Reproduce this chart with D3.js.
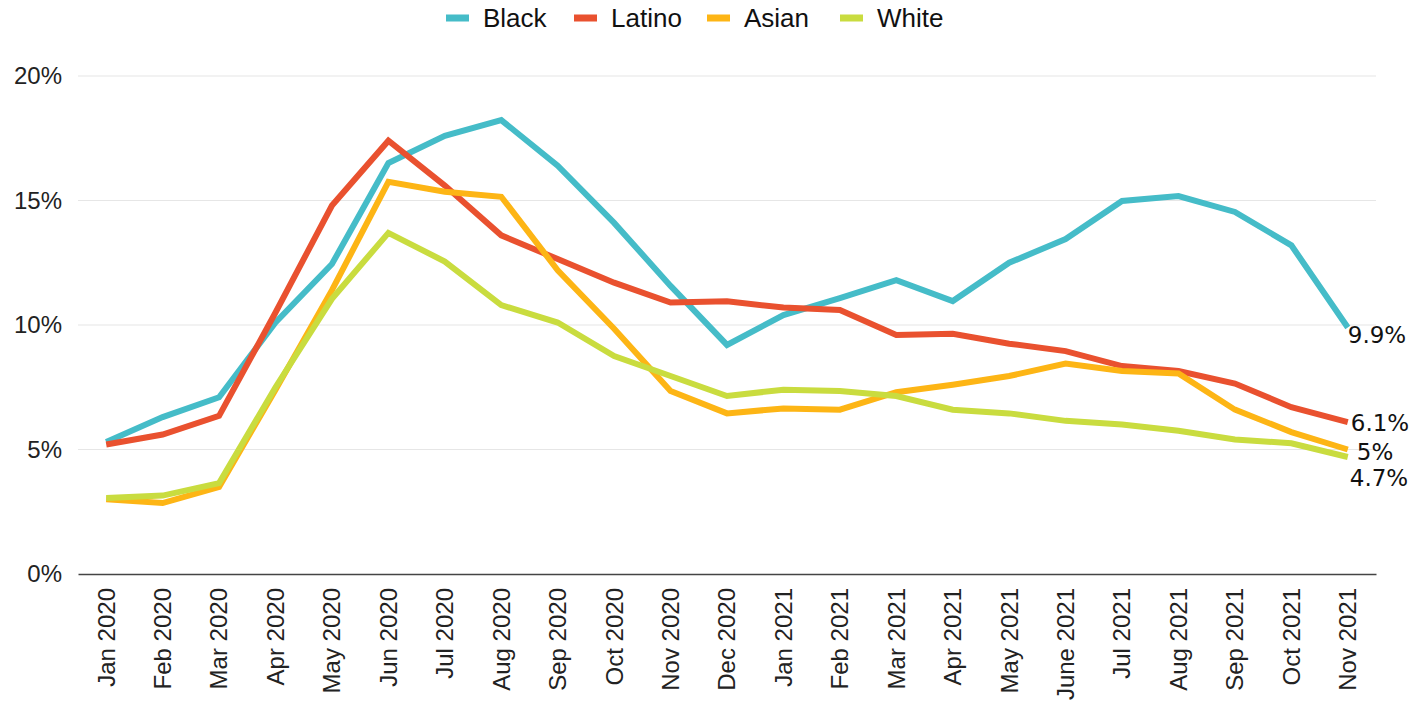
<!DOCTYPE html>
<html>
<head>
<meta charset="utf-8">
<script src="https://cdn.jsdelivr.net/npm/d3@7"></script>
<style>
  html, body { margin: 0; padding: 0; background: #fff; }
  svg { display: block; }
</style>
</head>
<body>
<svg id="chart" width="1414" height="709"></svg>
<script>
// Months on the x axis
const months = ["Jan 2020","Feb 2020","Mar 2020","Apr 2020","May 2020","Jun 2020","Jul 2020","Aug 2020",
  "Sep 2020","Oct 2020","Nov 2020","Dec 2020","Jan 2021","Feb 2021","Mar 2021","Apr 2021","May 2021",
  "June 2021","Jul 2021","Aug 2021","Sep 2021","Oct 2021","Nov 2021"];

// Unemployment rate (%) by group
const black  = [5.3, 6.3, 7.1, 10.1, 12.45, 16.5, 17.6, 18.23, 16.4, 14.1, 11.57, 9.2, 10.4, 11.08, 11.8, 10.96, 12.5, 13.45, 14.98, 15.18, 14.54, 13.2, 9.9];
const latino = [5.2, 5.6, 6.35, 10.5, 14.8, 17.4, 15.6, 13.6, 12.65, 11.7, 10.9, 10.95, 10.7, 10.6, 9.6, 9.65, 9.25, 8.95, 8.35, 8.15, 7.65, 6.7, 6.1];
const asian  = [3.0, 2.85, 3.5, 7.4, 11.4, 15.75, 15.35, 15.15, 12.2, 9.85, 7.35, 6.45, 6.65, 6.6, 7.3, 7.6, 7.95, 8.45, 8.15, 8.05, 6.6, 5.7, 5.0];
const white  = [3.05, 3.15, 3.65, 7.5, 11.05, 13.7, 12.55, 10.8, 10.1, 8.75, 7.95, 7.15, 7.4, 7.35, 7.15, 6.6, 6.45, 6.15, 6.0, 5.75, 5.4, 5.25, 4.7];

const seriesNames = ["Black", "Latino", "Asian", "White"];
const seriesColors = ["#45bcc8", "#e9512f", "#fdb515", "#c9dc3f"];
const yTicks = [0, 5, 10, 15, 20];

// End-of-line labels and their offsets from the last point
const endLabels = ["9.9%", "6.1%", "5%", "4.7%"];
const endOffsets = [[0, 7], [3, 1], [9, 2], [2, 21]];

const series = seriesNames.map((name, i) => ({
  name, color: seriesColors[i], values: [black, latino, asian, white][i], label: endLabels[i], off: endOffsets[i]
}));

const svg = d3.select("#chart");
const plotLeft = 78, plotRight = 1376, plotTop = 76, plotBottom = 574;

const x = d3.scaleBand().domain(months).range([plotLeft, plotRight]).padding(0);
const xc = m => x(m) + x.bandwidth() / 2;
const y = d3.scaleLinear().domain([0, 20]).range([plotBottom, plotTop]);

// Horizontal gridlines
svg.append("g").selectAll("line")
  .data(yTicks.filter(t => t > 0))
  .join("line")
  .attr("x1", plotLeft).attr("x2", plotRight)
  .attr("y1", d => y(d)).attr("y2", d => y(d))
  .attr("stroke", "#e6e6e6").attr("stroke-width", 1.2);

// Y axis labels
const yAxis = svg.append("g")
  .attr("transform", `translate(${plotLeft},0)`)
  .call(d3.axisLeft(y).tickValues(yTicks).tickFormat(d => d + "%").tickSize(0).tickPadding(16));
yAxis.select(".domain").remove();
yAxis.selectAll("text")
  .attr("font-family", "'Liberation Sans', Arial, sans-serif")
  .attr("font-size", 24).attr("fill", "#222");

// X axis
const xAxis = svg.append("g")
  .attr("transform", `translate(0,${plotBottom})`)
  .call(d3.axisBottom(x).tickSize(0).tickPadding(0));
xAxis.select(".domain").attr("stroke", "#444").attr("stroke-width", 1.6);
xAxis.selectAll("text")
  .attr("font-family", "'Liberation Sans', Arial, sans-serif")
  .attr("font-size", 24).attr("fill", "#222")
  .attr("transform", "translate(0,14) rotate(-90)")
  .attr("text-anchor", "end")
  .attr("dx", 0).attr("dy", "0.35em").attr("y", 0).attr("x", 0);

// Lines
const line = d3.line().x((d, i) => xc(months[i])).y(d => y(d));
svg.append("g").selectAll("path")
  .data(series)
  .join("path")
  .attr("d", d => line(d.values))
  .attr("fill", "none")
  .attr("stroke", d => d.color)
  .attr("stroke-width", 6)
  .attr("stroke-linejoin", "miter");

// End labels
const last = months[months.length - 1];
svg.append("g").selectAll("text")
  .data(series)
  .join("text")
  .attr("x", d => xc(last) + d.off[0])
  .attr("y", d => y(d.values[d.values.length - 1]) + d.off[1])
  .attr("dy", "0.35em")
  .attr("font-family", "'DejaVu Sans', Verdana, sans-serif")
  .attr("font-size", 23)
  .attr("fill", "#111")
  .text(d => d.label);

// Legend
const legendX = [446, 574, 707, 840];
const legend = svg.append("g").selectAll("g")
  .data(series)
  .join("g")
  .attr("transform", (d, i) => `translate(${legendX[i]},18)`);
legend.append("rect")
  .attr("x", 0).attr("y", -3.5).attr("width", 23).attr("height", 7)
  .attr("fill", d => d.color);
legend.append("text")
  .attr("x", 37).attr("y", 0).attr("dy", "0.35em")
  .attr("font-family", "'Liberation Sans', Arial, sans-serif")
  .attr("font-size", 26).attr("fill", "#111")
  .text(d => d.name);
</script>
</body>
</html>
